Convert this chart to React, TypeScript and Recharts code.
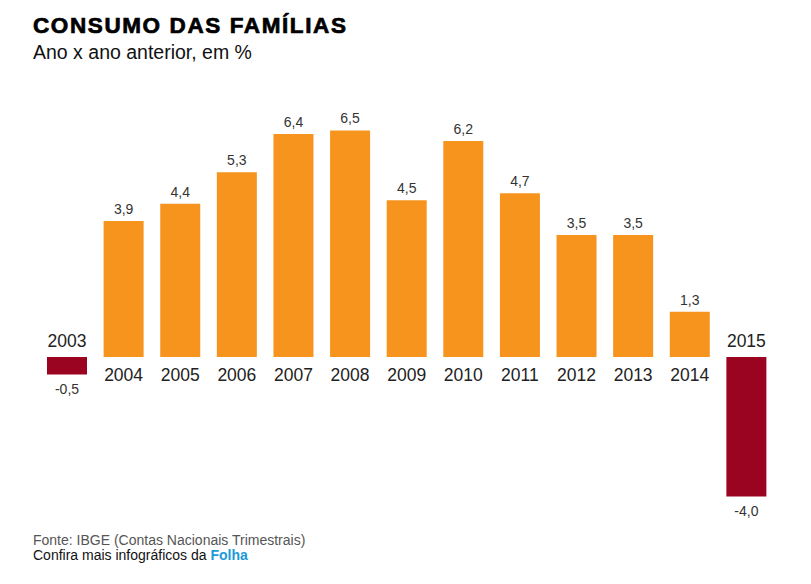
import { BarChart, Bar, XAxis, YAxis, Cell, LabelList } from 'recharts';

const years = ['2003', '2004', '2005', '2006', '2007', '2008', '2009', '2010', '2011', '2012', '2013', '2014', '2015'];
const growth = [-0.5, 3.9, 4.4, 5.3, 6.4, 6.5, 4.5, 6.2, 4.7, 3.5, 3.5, 1.3, -4.0];

const ORANGE = '#F7941E';
const DARK_RED = '#9B0421';
const FONT = '"Liberation Sans", Arial, sans-serif';

const data = years.map((year, i) => ({ year, value: growth[i] }));

const fmt = (v: number) => v.toFixed(1).replace('.', ',');

// value above positive bars / below negative ones, year on the other side of zero
const BarLabels = (props: any) => {
  const { x, y, width, height, index } = props;
  const v = growth[index];
  const top = Math.min(y, y + height);
  const bottom = Math.max(y, y + height);
  const cx = x + width / 2;
  if (v >= 0) {
    return (
      <g>
        <text x={cx} y={top - 7} textAnchor="middle" fontSize={14} fill="#333" fontFamily={FONT}>
          {fmt(v)}
        </text>
        <text x={cx} y={bottom + 24} textAnchor="middle" fontSize={17.5} fill="#222" fontFamily={FONT}>
          {years[index]}
        </text>
      </g>
    );
  }
  return (
    <g>
      <text x={cx} y={top - 10.5} textAnchor="middle" fontSize={17.5} fill="#222" fontFamily={FONT}>
        {years[index]}
      </text>
      <text x={cx} y={bottom + 19} textAnchor="middle" fontSize={14} fill="#333" fontFamily={FONT}>
        {fmt(v)}
      </text>
    </g>
  );
};

const App = () => {
  return (
    <div style={{ position: 'absolute', left: 0, top: 0, width: 811, height: 584, background: '#fff', fontFamily: FONT }}>
      <div style={{ position: 'absolute', left: 33, top: 13, fontSize: 22.5, lineHeight: '26px', fontWeight: 'bold', color: '#000', letterSpacing: 1.6, WebkitTextStroke: '0.7px #000' }}>
        CONSUMO DAS FAMÍLIAS
      </div>
      <div style={{ position: 'absolute', left: 33, top: 41, fontSize: 19.5, lineHeight: '22px', color: '#111' }}>
        Ano x ano anterior, em %
      </div>
      <BarChart
        width={811}
        height={584}
        data={data}
        margin={{ top: 113, right: 36, left: 39, bottom: 70 }}
      >
        <XAxis dataKey="year" hide />
        <YAxis hide domain={[-4.5, 7]} />
        <Bar dataKey="value" barSize={40} isAnimationActive={false}>
          {data.map((d) => (
            <Cell key={d.year} fill={d.value < 0 ? DARK_RED : ORANGE} />
          ))}
          <LabelList dataKey="value" content={BarLabels} />
        </Bar>
      </BarChart>
      <div style={{ position: 'absolute', left: 33, top: 533, fontSize: 14, lineHeight: '15px', color: '#555' }}>
        Fonte: IBGE (Contas Nacionais Trimestrais)
      </div>
      <div style={{ position: 'absolute', left: 33, top: 548, fontSize: 14, lineHeight: '15px', color: '#111' }}>
        Confira mais infográficos da <span style={{ color: '#1A9AD7', fontWeight: 'bold' }}>Folha</span>
      </div>
    </div>
  );
};

export default App;
